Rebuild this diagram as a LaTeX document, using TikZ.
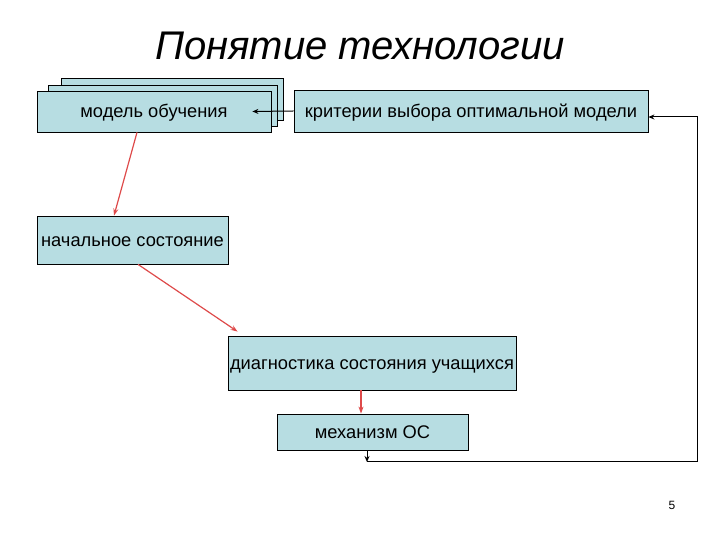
\documentclass[tikz,border=0pt]{standalone}
\usepackage{fontspec}
\setmainfont{Liberation Sans}
\usepackage{xcolor}
\usepackage{tikz}
\usetikzlibrary{arrows.meta,positioning,calc}
\definecolor{boxfill}{RGB}{183, 221, 226}
\definecolor{linkred}{RGB}{222, 74, 74}
\tikzset{
    stagebox/.style={draw=black, line width=0.8pt, fill=boxfill, inner sep=0pt,
        align=center, text height=13pt, text depth=0pt,
        font=\fontsize{18.3}{21}\selectfont},
    redlink/.style={draw=linkred, line width=1.2pt, -{Stealth[length=7pt,width=5pt]}},
    blacklink/.style={draw=black, line width=1pt, -{Stealth[length=6pt,width=5pt]}}
}

\begin{document}
\begin{tikzpicture}[x=1pt, y=1pt]
    \useasboundingbox (0,0) rectangle (720,540);
    \node[anchor=base, font=\fontsize{40}{44}\selectfont\itshape] (title) at (360,480) {Понятие технологии};
    % stacked sheets behind the model box
    \draw[line width=0.8pt, fill=boxfill] (61,420) rectangle (283,462);
    \draw[line width=0.8pt, fill=boxfill] (48,414) rectangle (277,455);
    \node[stagebox, minimum width=234, minimum height=41] (model) at (154,428.5) {модель обучения};
    \node[stagebox, minimum width=354, minimum height=42] (crit) at (471,429) {критерии выбора оптимальной модели};
    \node[stagebox, minimum width=191, minimum height=48] (init) at (132.5,300) {начальное состояние};
    \node[stagebox, minimum width=288, minimum height=54] (diag) at (372,177) {диагностика состояния учащихся};
    \node[stagebox, minimum width=191, minimum height=36] (mech) at (372.5,108) {механизм ОС};
    \node[font=\fontsize{12}{14}\selectfont] (page) at (672,35) {5};

    \coordinate (fb) at (367,78);
    \coordinate (fbr) at (697,78);
    \draw[redlink] ([xshift=-17pt]model.south) -- ([xshift=-18.5pt]init.north);
    \draw[redlink] ([xshift=5.5pt]init.south) -- ([shift={(10pt,4pt)}]diag.north west);
    \draw[redlink] ([xshift=-11pt]diag.south) -- ([xshift=-11.5pt]mech.north);
    \draw[blacklink] (crit.west) -- ([xshift=-19pt]model.east);
    \draw[blacklink] (mech.south -| fb) -- (fb);
    \draw[blacklink] (fb) -- (fbr) |- ([yshift=-6pt]crit.east);
\end{tikzpicture}
\end{document}
